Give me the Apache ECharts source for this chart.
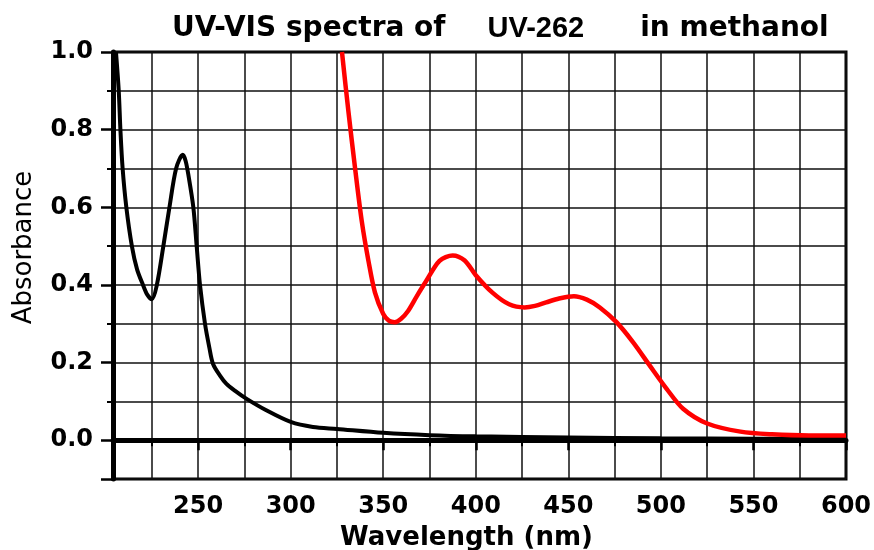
<!DOCTYPE html>
<html lang="en">

<head>
    <meta charset="UTF-8">
    <title>UV-VIS spectra of UV-262</title>
    <script src="https://cdn.jsdelivr.net/npm/echarts@6.0.0/dist/echarts.min.js"></script>
    <style>
        body {
            margin: 0;
            background: #fff;
        }

        #spectra {
            width: 874px;
            height: 550px;
        }
    </style>
</head>

<body>
    <div id="spectra"></div>
</body>
<script type="text/javascript">

    // black curve (short wavelength part)
    var blackWl = [205.6, 207.1, 208, 209.2, 211.2, 214.2, 217, 220.2, 222.5, 225, 227.7, 231.2, 234.5, 238.1, 241.7, 243.2, 244.7, 247.4, 249.2, 251, 253.7, 256, 258, 261.7, 265.3, 270, 276, 286.8, 300, 312, 325, 350, 375, 400, 450, 500, 550, 600];
    var blackAbs = [1.0, 0.9, 0.8, 0.7, 0.6, 0.5, 0.44, 0.4, 0.375, 0.363, 0.4, 0.5, 0.6, 0.7, 0.735, 0.72, 0.684, 0.6, 0.5, 0.4, 0.3, 0.24, 0.197, 0.167, 0.145, 0.127, 0.107, 0.077, 0.047, 0.034, 0.029, 0.019, 0.013, 0.01, 0.007, 0.005, 0.004, 0.003];

    // red curve (visible part)
    var redWl = [327.7, 331.2, 334.8, 338.4, 342, 345.5, 350, 353, 356.2, 359.5, 363.4, 368, 373.2, 380.4, 387.5, 394, 400, 409, 418, 426.4, 432, 438, 445, 453, 460, 467, 476, 485, 494, 503, 512, 525, 543, 560, 580, 600];
    var redAbs = [1.0, 0.846, 0.70, 0.564, 0.462, 0.381, 0.325, 0.308, 0.304, 0.312, 0.333, 0.37, 0.41, 0.462, 0.476, 0.463, 0.425, 0.38, 0.35, 0.342, 0.346, 0.355, 0.365, 0.371, 0.362, 0.342, 0.304, 0.252, 0.192, 0.133, 0.081, 0.043, 0.022, 0.015, 0.012, 0.012];

    var xMin = 204, xMax = 600;
    var yMin = -0.1, yMax = 1.0;

    function pairs(xs, ys) {
        var out = [];
        for (var i = 0; i < xs.length; i++) {
            out.push([xs[i], ys[i]]);
        }
        return out;
    }

    var labelFont = {
        color: '#000',
        fontFamily: 'DejaVu Sans',
        fontWeight: 'bold',
        fontSize: 24
    };

    var spectra = echarts.init(document.getElementById('spectra'));
    spectra.setOption({
        animation: false,
        title: {
            left: 172,
            top: 14,
            padding: 0,
            text: '{a|UV-VIS spectra of}{b|UV-262}{a|in methanol}',
            textStyle: {
                rich: {
                    a: {
                        fontFamily: 'DejaVu Sans',
                        fontWeight: 'bold',
                        fontSize: 28,
                        color: '#000'
                    },
                    b: {
                        fontFamily: 'Liberation Sans',
                        fontWeight: 'bold',
                        fontSize: 29,
                        color: '#000',
                        padding: [0, 56, 0, 42]
                    }
                }
            }
        },
        grid: {
            left: 113,
            right: 28,
            top: 52,
            bottom: 71,
            outerBoundsMode: 'none',
            show: true,
            borderColor: '#000',
            borderWidth: 3
        },
        xAxis: {
            type: 'value',
            min: xMin,
            max: xMax,
            splitNumber: 8,
            name: 'Wavelength (nm)',
            nameLocation: 'middle',
            nameGap: 46,
            nameTextStyle: {
                color: '#000',
                fontFamily: 'DejaVu Sans',
                fontWeight: 'bold',
                fontSize: 26,
                padding: [0, 26, 0, 0]
            },
            axisLine: { lineStyle: { color: '#000', width: 5 } },
            axisTick: { length: 10, lineStyle: { color: '#000', width: 2.5 } },
            minorTick: { show: true, splitNumber: 2, length: 6, lineStyle: { color: '#000', width: 2 } },
            splitLine: { show: true, lineStyle: { color: '#111', width: 1.5 } },
            minorSplitLine: { show: true, lineStyle: { color: '#111', width: 1.5 } },
            axisLabel: Object.assign({ margin: 16, showMinLabel: false }, labelFont)
        },
        yAxis: {
            type: 'value',
            min: yMin,
            max: yMax,
            splitNumber: 5,
            name: 'Absorbance',
            nameLocation: 'middle',
            nameGap: 76,
            nameTextStyle: {
                color: '#000',
                fontFamily: 'DejaVu Sans',
                fontSize: 26,
                padding: [0, 0, 0, 36]
            },
            axisLine: { lineStyle: { color: '#000', width: 5 } },
            axisTick: { length: 12, lineStyle: { color: '#000', width: 2.5 } },
            minorTick: { show: true, splitNumber: 2, length: 6, lineStyle: { color: '#000', width: 2 } },
            splitLine: { show: true, lineStyle: { color: '#111', width: 1.5 } },
            minorSplitLine: { show: true, lineStyle: { color: '#111', width: 1.5 } },
            axisLabel: Object.assign({
                margin: 20,
                showMinLabel: false,
                formatter: function (v) { return v.toFixed(1); }
            }, labelFont)
        },
        series: [
            {
                name: 'black',
                type: 'line',
                showSymbol: false,
                smooth: 0.3,
                data: pairs(blackWl, blackAbs),
                lineStyle: { color: '#000', width: 4 }
            },
            {
                name: 'red',
                type: 'line',
                showSymbol: false,
                smooth: 0.3,
                data: pairs(redWl, redAbs),
                lineStyle: { color: '#ff0000', width: 4.5 }
            }
        ]
    });

</script>

</html>
